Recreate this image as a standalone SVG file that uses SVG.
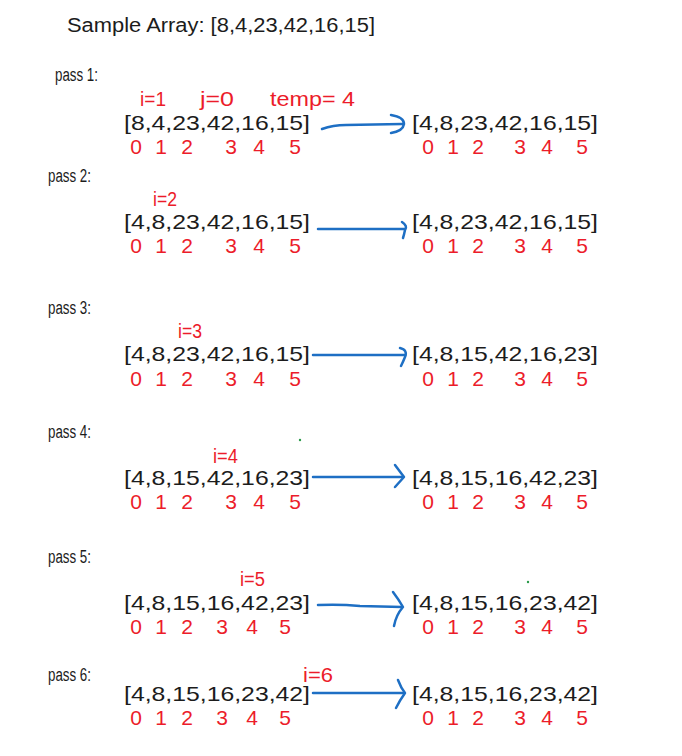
<svg xmlns="http://www.w3.org/2000/svg" width="682" height="756" viewBox="0 0 682 756">
<style>
.k{font-family:"Liberation Sans",Arial,sans-serif;font-size:20px;fill:#1c1c1c}
.p{font-family:"Liberation Sans",Arial,sans-serif;font-size:18px;fill:#1c1c1c}
.a{font-family:"Liberation Sans",Arial,sans-serif;font-size:21px;fill:#1c1c1c}
.r{font-family:"Liberation Sans",Arial,sans-serif;font-size:20px;fill:#ec1c2a}
.ix{font-family:"Liberation Sans",Arial,sans-serif;font-size:21px;fill:#ec1c2a;text-anchor:middle}
.ar{fill:none;stroke:#1e6fc4;stroke-width:2.5;stroke-linecap:round;stroke-linejoin:round}
</style>
<rect width="682" height="756" fill="#ffffff"/>
<g id="title"><text class="k" x="67" y="32" textLength="308" lengthAdjust="spacingAndGlyphs">Sample Array: [8,4,23,42,16,15]</text></g>

<g id="pass1">
<text class="p" x="55" y="81" textLength="43" lengthAdjust="spacingAndGlyphs">pass 1:</text>
<text class="r" x="140" y="106" textLength="26" lengthAdjust="spacingAndGlyphs">i=1</text>
<text class="r" x="200" y="106" textLength="34" lengthAdjust="spacingAndGlyphs">j=0</text>
<text class="r" x="270" y="106" textLength="85" lengthAdjust="spacingAndGlyphs">temp= 4</text>
<text class="a" x="124" y="130" textLength="186" lengthAdjust="spacingAndGlyphs">[8,4,23,42,16,15]</text>
<text class="ix" x="136 161 187 231 259 295" y="154">012345</text>
<text class="a" x="412" y="130" textLength="186" lengthAdjust="spacingAndGlyphs">[4,8,23,42,16,15]</text>
<text class="ix" x="428 453 478 520 547 582" y="154">012345</text>
</g>

<g id="pass2">
<text class="p" x="48" y="182" textLength="43" lengthAdjust="spacingAndGlyphs">pass 2:</text>
<text class="r" x="153" y="206" textLength="24" lengthAdjust="spacingAndGlyphs">i=2</text>
<text class="a" x="124" y="229" textLength="186" lengthAdjust="spacingAndGlyphs">[4,8,23,42,16,15]</text>
<text class="ix" x="136 161 187 231 259 295" y="253">012345</text>
<text class="a" x="412" y="229" textLength="186" lengthAdjust="spacingAndGlyphs">[4,8,23,42,16,15]</text>
<text class="ix" x="428 453 478 520 547 582" y="253">012345</text>
</g>

<g id="pass3">
<text class="p" x="48" y="314" textLength="43" lengthAdjust="spacingAndGlyphs">pass 3:</text>
<text class="r" x="178" y="338" textLength="24" lengthAdjust="spacingAndGlyphs">i=3</text>
<text class="a" x="124" y="361" textLength="186" lengthAdjust="spacingAndGlyphs">[4,8,23,42,16,15]</text>
<text class="ix" x="136 161 187 231 259 295" y="386">012345</text>
<text class="a" x="412" y="361" textLength="186" lengthAdjust="spacingAndGlyphs">[4,8,15,42,16,23]</text>
<text class="ix" x="428 453 478 520 547 582" y="386">012345</text>
</g>

<g id="pass4">
<text class="p" x="48" y="438" textLength="43" lengthAdjust="spacingAndGlyphs">pass 4:</text>
<text class="r" x="213" y="463" textLength="25" lengthAdjust="spacingAndGlyphs">i=4</text>
<text class="a" x="124" y="485" textLength="186" lengthAdjust="spacingAndGlyphs">[4,8,15,42,16,23]</text>
<text class="ix" x="136 161 187 231 259 295" y="509">012345</text>
<text class="a" x="412" y="485" textLength="186" lengthAdjust="spacingAndGlyphs">[4,8,15,16,42,23]</text>
<text class="ix" x="428 453 478 520 547 582" y="509">012345</text>
</g>

<g id="pass5">
<text class="p" x="48" y="563" textLength="43" lengthAdjust="spacingAndGlyphs">pass 5:</text>
<text class="r" x="240" y="586" textLength="25" lengthAdjust="spacingAndGlyphs">i=5</text>
<text class="a" x="124" y="610" textLength="186" lengthAdjust="spacingAndGlyphs">[4,8,15,16,42,23]</text>
<text class="ix" x="136 161 187 222 252 285" y="634">012345</text>
<text class="a" x="412" y="610" textLength="186" lengthAdjust="spacingAndGlyphs">[4,8,15,16,23,42]</text>
<text class="ix" x="428 453 478 520 547 582" y="634">012345</text>
</g>

<g id="pass6">
<text class="p" x="48" y="681" textLength="43" lengthAdjust="spacingAndGlyphs">pass 6:</text>
<text class="r" x="303" y="682" textLength="30" lengthAdjust="spacingAndGlyphs">i=6</text>
<text class="a" x="124" y="701" textLength="186" lengthAdjust="spacingAndGlyphs">[4,8,15,16,23,42]</text>
<text class="ix" x="136 161 187 222 252 285" y="725">012345</text>
<text class="a" x="412" y="701" textLength="186" lengthAdjust="spacingAndGlyphs">[4,8,15,16,23,42]</text>
<text class="ix" x="428 453 478 520 547 582" y="725">012345</text>
</g>

<g id="dots">
<circle cx="300" cy="440" r="1.2" fill="#2a9a4a"/>
<circle cx="528" cy="582" r="1.2" fill="#2a9a4a"/>
</g>

<g id="connectors">
<path class="ar" d="M322,129 Q333,125 346,125 L402,124"/>
<path class="ar" d="M391,115 Q404,117 404,124 Q403,131 391,133"/>
<path class="ar" d="M318,229 L405,229"/>
<path class="ar" d="M402,222 Q408,226 405,230 Q404,235 403,238"/>
<path class="ar" d="M313,355 L405,355"/>
<path class="ar" d="M400,348 Q408,350 405,357 Q403,362 401,366"/>
<path class="ar" d="M313,477 L402,477"/>
<path class="ar" d="M395,465 L404,477 L395,487"/>
<path class="ar" d="M318,605 Q340,604 360,606 L402,607"/>
<path class="ar" d="M393,592 Q399,600 403,607 Q396,615 394,626"/>
<path class="ar" d="M313,693 L404,693"/>
<path class="ar" d="M398,680 Q401,688 405,693 Q400,700 396,708"/>
</g>
</svg>
